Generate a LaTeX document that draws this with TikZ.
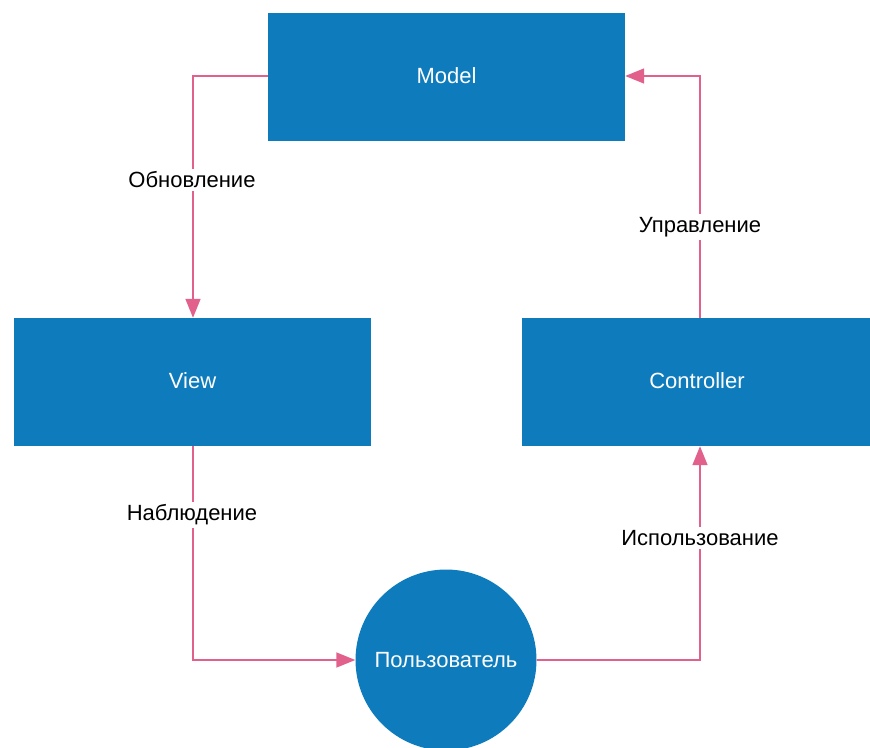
\documentclass[tikz,border=0pt]{standalone}
\usepackage{fontspec}
\setmainfont{Liberation Sans}
\usetikzlibrary{arrows.meta}
\definecolor{boxblue}{HTML}{0E7CBC}
\definecolor{linkpink}{HTML}{E2618C}
\begin{document}
\begin{tikzpicture}[x=1pt,y=-1pt,
  block/.style={fill=boxblue, draw=none, text=white, font=\fontsize{22}{26}\selectfont},
  link/.style={draw=linkpink, line width=1.6pt, -{Triangle[length=19pt,width=15pt]}},
  tag/.style={fill=white, text=black, inner sep=3pt, font=\fontsize{22}{26}\selectfont}]
\useasboundingbox (0,0) rectangle (870,747);
\begin{scope}
\clip (0,0) rectangle (870,747);
\node[block, minimum width=357pt, minimum height=128pt, text depth=3pt] (model) at (446.5,77) {Model};
\node[block, minimum width=357pt, minimum height=128pt, text depth=3pt] (view) at (192.5,382) {View};
\node[block, minimum width=350pt, minimum height=128pt, text depth=3pt] (ctrl) at (697,382) {Controller};
\node[block, circle, minimum size=181pt, inner sep=0pt] (user) at (446,660) {Пользователь};
\end{scope}

\coordinate (c1) at (193,76);
\coordinate (c2) at (193,660);
\coordinate (c3) at (700,660);
\coordinate (c4) at (700,76);

\draw[link] (model.west |- c1) -- (c1) -- (c1 |- view.north);
\draw[link] (c2 |- view.south) -- (c2) -- (user.west);
\draw[link] (user.east) -- (c3) -- (c3 |- ctrl.south);
\draw[link] (c4 |- ctrl.north) -- (c4) -- (c4 -| model.east);

\node[tag] (t1) at (192,180) {Обновление};
\node[tag] (t2) at (700,227) {Управление};
\node[tag] (t3) at (192,515) {Наблюдение};
\node[tag] (t4) at (700,538) {Использование};
\end{tikzpicture}
\end{document}
